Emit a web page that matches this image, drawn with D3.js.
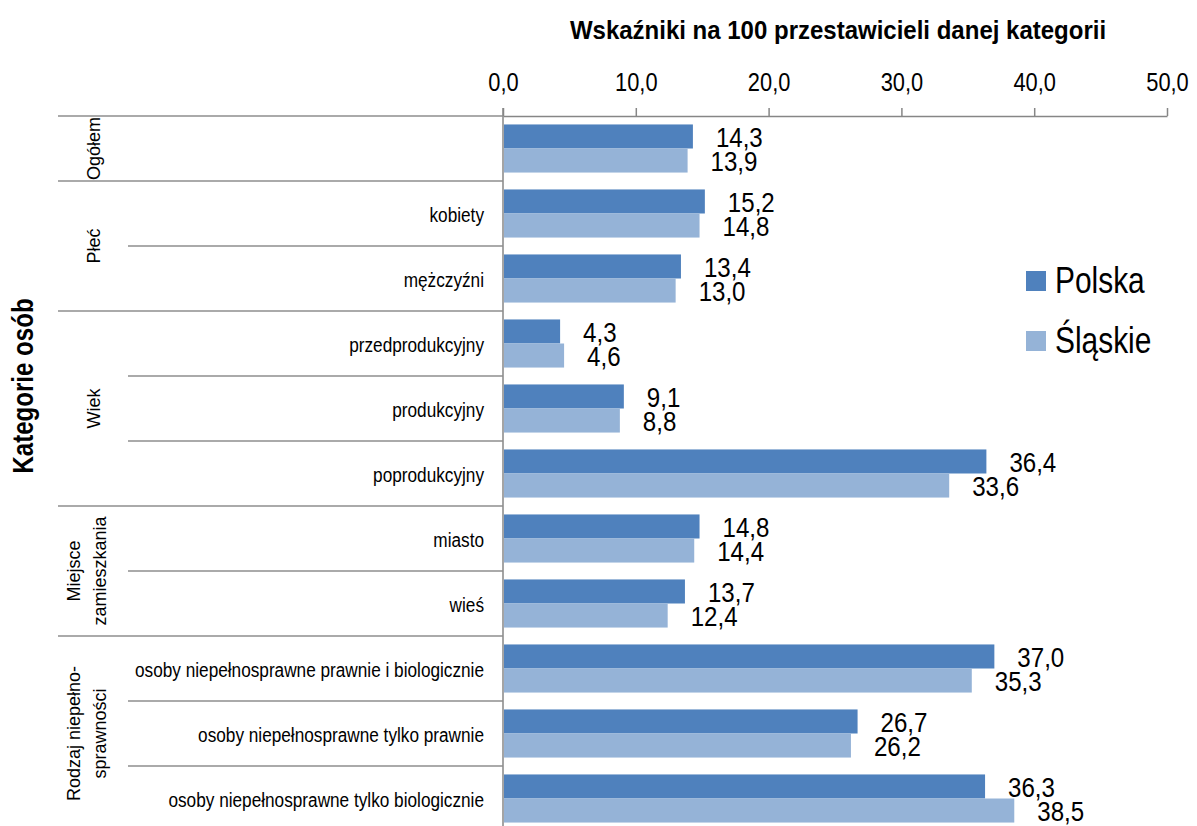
<!DOCTYPE html>
<html>
<head>
<meta charset="utf-8">
<script src="https://cdn.jsdelivr.net/npm/d3@7"></script>
<style>
  body { margin: 0; background: #fff; }
  svg text { font-family: "Liberation Sans Narrow", "Arial Narrow", "Liberation Sans", Arial, sans-serif; fill: #000; }
</style>
</head>
<body>
<div id="chart"></div>
<script>
// rows, top to bottom
const categories = [
  "Ogółem", "kobiety", "mężczyźni",
  "przedprodukcyjny", "produkcyjny", "poprodukcyjny",
  "miasto", "wieś",
  "osoby niepełnosprawne prawnie i biologicznie",
  "osoby niepełnosprawne tylko prawnie",
  "osoby niepełnosprawne tylko biologicznie"
];
const groupNames = [["Ogółem"], ["Płeć"], ["Wiek"], ["Miejsce", "zamieszkania"], ["Rodzaj niepełno-", "sprawności"]];
const groupSizes = [1, 2, 3, 2, 3];
const seriesNames = ["Polska", "Śląskie"];
const polska = [14.3, 15.2, 13.4, 4.3, 9.1, 36.4, 14.8, 13.7, 37.0, 26.7, 36.3];
const slaskie = [13.9, 14.8, 13.0, 4.6, 8.8, 33.6, 14.4, 12.4, 35.3, 26.2, 38.5];
const xTicks = [0, 10, 20, 30, 40, 50];
const colors = ["#4F81BD", "#95B3D7"];

const width = 1197, height = 826;
const svg = d3.select('#chart').append('svg')
  .attr('width', width)
  .attr('height', height);

const fmt = v => d3.format('.1f')(v).replace('.', ',');

// no narrow font installed, so squeeze the regular one
function narrow(sel, k) {
  sel.each(function() {
    const w = this.getComputedTextLength();
    d3.select(this).attr('textLength', w * k).attr('lengthAdjust', 'spacingAndGlyphs');
  });
}

const x = d3.scaleLinear().domain([0, 50]).range([503, 1167]);
const rows = d3.scaleBand().domain(d3.range(categories.length)).range([116, 831]);
const y = d3.scaleBand().domain(d3.range(categories.length)).range([116, 831])
  .paddingInner(0.26).paddingOuter(0.13);
const ySeries = d3.scaleBand().domain(seriesNames).range([0, y.bandwidth()]);

// title
svg.append('text')
  .attr('x', 838).attr('y', 39)
  .attr('text-anchor', 'middle')
  .style('font-weight', 'bold').style('font-size', '25px')
  .text('Wskaźniki na 100 przestawicieli danej kategorii')
  .call(narrow, 0.96);

// y axis title
svg.append('text')
  .attr('transform', 'translate(33,386) rotate(-90)')
  .attr('text-anchor', 'middle')
  .style('font-weight', 'bold').style('font-size', '29px')
  .text('Kategorie osób')
  .call(narrow, 0.83);

// top axis
const axis = svg.append('g')
  .attr('transform', 'translate(0,116)')
  .call(d3.axisTop(x).tickValues(xTicks).tickFormat(fmt).tickSize(8).tickSizeOuter(0).tickPadding(17));
axis.select('.domain').attr('stroke', '#868686').attr('stroke-width', 1.5);
axis.selectAll('.tick line').attr('stroke', '#868686').attr('stroke-width', 1.5);
axis.selectAll('.tick text').style('font-size', '26px').attr('fill', '#000').call(narrow, 0.84);

// category axis line
svg.append('line')
  .attr('x1', x(0)).attr('x2', x(0))
  .attr('y1', 108).attr('y2', height)
  .attr('stroke', '#868686').attr('stroke-width', 1.5);

// separators between rows and groups
const groupStarts = groupSizes.map((s, i) => d3.sum(groupSizes.slice(0, i)));
const boundaries = d3.range(categories.length + 1);
svg.append('g').selectAll('line')
  .data(boundaries)
  .join('line')
  .attr('x1', d => (d === categories.length || groupStarts.includes(d)) ? 58 : 128)
  .attr('x2', x(0))
  .attr('y1', d => d === categories.length ? 831 : rows(d))
  .attr('y2', d => d === categories.length ? 831 : rows(d))
  .attr('stroke', '#8e8e8e').attr('stroke-width', 1.5);

// group labels (rotated)
const groups = svg.append('g').selectAll('text')
  .data(groupNames)
  .join('text')
  .attr('transform', (d, i) => {
    const y0 = rows(groupStarts[i]);
    const y1 = y0 + rows.step() * groupSizes[i];
    const cx = d.length === 1 ? 100 : 80;
    return `translate(${cx},${(y0 + y1) / 2}) rotate(-90)`;
  })
  .attr('text-anchor', 'middle')
  .style('font-size', '18px');
groups.selectAll('tspan')
  .data(d => d)
  .join('tspan')
  .attr('x', 0)
  .attr('dy', (d, i) => i === 0 ? 0 : 26)
  .text(d => d);

// subcategory labels (first row has only the group label)
svg.append('g').selectAll('text')
  .data(categories.slice(1))
  .join('text')
  .attr('x', 484)
  .attr('y', (d, i) => rows(i + 1) + rows.bandwidth() / 2)
  .attr('dy', '0.42em')
  .attr('text-anchor', 'end')
  .style('font-size', '20px')
  .text(d => d)
  .call(narrow, 0.86);

// bars
const seriesData = [polska, slaskie];
const bars = svg.append('g').selectAll('g')
  .data(seriesData)
  .join('g')
  .attr('fill', (d, i) => colors[i]);
bars.selectAll('rect')
  .data((d, si) => d.map((v, i) => ({ v, i, s: seriesNames[si] })))
  .join('rect')
  .attr('x', x(0) + 1)
  .attr('y', d => y(d.i) + ySeries(d.s))
  .attr('width', d => x(d.v) - x(0) - 1)
  .attr('height', ySeries.bandwidth());

// value labels
bars.selectAll('text')
  .data((d, si) => d.map((v, i) => ({ v, i, s: seriesNames[si] })))
  .join('text')
  .attr('x', d => x(d.v) + 23)
  .attr('y', d => y(d.i) + ySeries(d.s) + ySeries.bandwidth() / 2)
  .attr('dy', '0.36em')
  .style('font-size', '28px')
  .text(d => fmt(d.v))
  .call(narrow, 0.86);

// legend
const legend = svg.append('g').selectAll('g')
  .data(seriesNames)
  .join('g')
  .attr('transform', (d, i) => `translate(1026,${271 + i * 60})`);
legend.append('rect')
  .attr('width', 20).attr('height', 20)
  .attr('fill', (d, i) => colors[i]);
legend.append('text')
  .attr('x', 29).attr('y', 22)
  .style('font-size', '36px')
  .text(d => d)
  .call(narrow, 0.83);
</script>
</body>
</html>
